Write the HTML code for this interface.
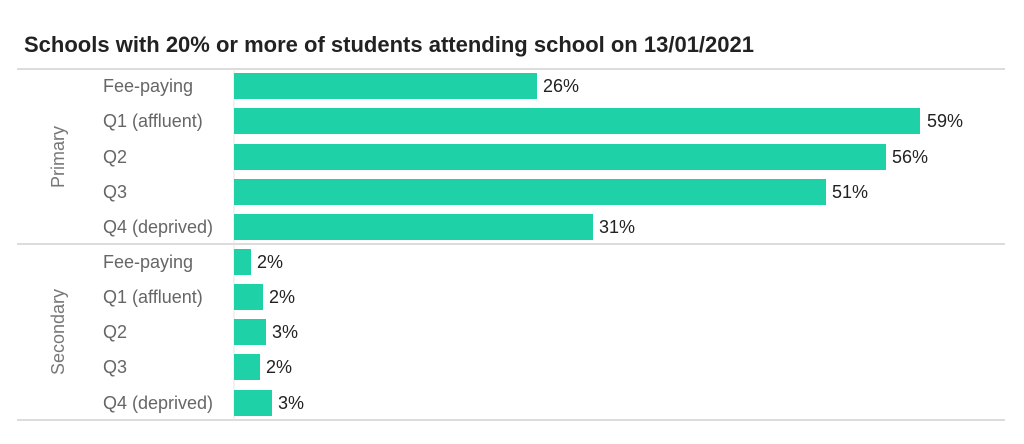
<!DOCTYPE html>
<html><head><style>
body{margin:0;background:#fff;width:1024px;height:439px;overflow:hidden;font-family:"Liberation Sans",sans-serif;}
svg text{font-family:"Liberation Sans",sans-serif;}
</style></head><body>
<svg width="1024" height="439" xmlns="http://www.w3.org/2000/svg">
<text x="24" y="52" font-size="22" font-weight="bold" fill="#222" textLength="730" lengthAdjust="spacingAndGlyphs">Schools with 20% or more of students attending school on 13/01/2021</text>
<line x1="17" y1="69" x2="1005" y2="69" stroke="#d0d0d0" stroke-width="1.5"/>
<line x1="17" y1="244" x2="1005" y2="244" stroke="#d0d0d0" stroke-width="1.5"/>
<line x1="17" y1="420" x2="1005" y2="420" stroke="#d0d0d0" stroke-width="1.5"/>
<line x1="234" y1="69" x2="234" y2="420" stroke="#e6e6e6" stroke-width="1"/>
<text transform="translate(64,157) rotate(-90)" text-anchor="middle" font-size="18" fill="#777">Primary</text>
<text transform="translate(64,332) rotate(-90)" text-anchor="middle" font-size="18" fill="#777">Secondary</text>
<g font-size="18" fill="#666">
<text x="103" y="92">Fee-paying</text>
<text x="103" y="127">Q1 (affluent)</text>
<text x="103" y="163">Q2</text>
<text x="103" y="198">Q3</text>
<text x="103" y="233">Q4 (deprived)</text>
<text x="103" y="268">Fee-paying</text>
<text x="103" y="303">Q1 (affluent)</text>
<text x="103" y="338">Q2</text>
<text x="103" y="373">Q3</text>
<text x="103" y="409">Q4 (deprived)</text>
</g>
<g fill="#1fd1a6">
<rect x="234" y="73" width="303" height="26"/>
<rect x="234" y="108" width="686" height="26"/>
<rect x="234" y="144" width="652" height="26"/>
<rect x="234" y="179" width="592" height="26"/>
<rect x="234" y="214" width="359" height="26"/>
<rect x="234" y="249" width="17" height="26"/>
<rect x="234" y="284" width="29" height="26"/>
<rect x="234" y="319" width="32" height="26"/>
<rect x="234" y="354" width="26" height="26"/>
<rect x="234" y="390" width="38" height="26"/>
</g>
<g font-size="18" fill="#222">
<text x="543" y="92">26%</text>
<text x="927" y="127">59%</text>
<text x="892" y="163">56%</text>
<text x="832" y="198">51%</text>
<text x="599" y="233">31%</text>
<text x="257" y="268">2%</text>
<text x="269" y="303">2%</text>
<text x="272" y="338">3%</text>
<text x="266" y="373">2%</text>
<text x="278" y="409">3%</text>
</g>
</svg>
</body></html>
